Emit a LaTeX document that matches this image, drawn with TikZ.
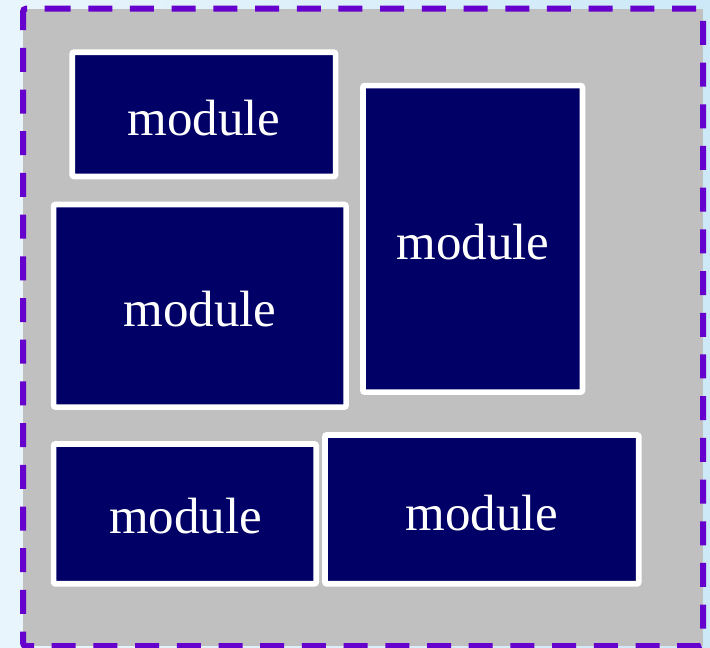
\documentclass[tikz,border=0pt]{standalone}
\usepackage{fontspec}
\setmainfont{Liberation Serif}
\definecolor{skyleft}{RGB}{233,245,252}
\definecolor{skyright}{RGB}{205,233,248}
\definecolor{panelgray}{RGB}{192,192,192}
\definecolor{edgepurple}{RGB}{102,0,204}
\definecolor{modnavy}{RGB}{0,0,102}
\tikzset{
  panelfill/.style={fill=panelgray},
  paneledge/.style={draw=edgepurple, line width=6pt,
    dash pattern=on 24pt off 17.7pt, dash phase=0pt, rounded corners=3pt},
  modbox/.style={draw=white, fill=modnavy, line width=5.7pt,
    rounded corners=2pt},
  modlabel/.style={text=white, font=\fontsize{51}{51}\selectfont, inner sep=0pt}
}
\begin{document}
\begin{tikzpicture}[x=1pt, y=-1pt]
  % canvas
  \shade[left color=skyleft, right color=skyright] (0,0) rectangle (710,648);
  \useasboundingbox (0,0) rectangle (710,648);
  % container: grey panel with a dashed purple rim
  \fill[panelfill] (23,8.7) rectangle (703,646);
  \draw[paneledge] (71.7,8.7) -- (23,8.7) -- (23,646) -- (703,646)
    -- (703,8.7) -- cycle;
  % modules
  \draw[modbox] (72.2,52.2) rectangle (335.6,176.5);
  \node[modlabel] (m1) at (204,118) {module};
  \draw[modbox] (53.6,204.5) rectangle (346.1,407.1);
  \node[modlabel] (m2) at (200,309) {module};
  \draw[modbox] (362.9,85.6) rectangle (582.5,392.1);
  \node[modlabel] (m3) at (473,242) {module};
  \draw[modbox] (53.6,443.9) rectangle (316.2,583.8);
  \node[modlabel] (m4) at (185.5,516) {module};
  \draw[modbox] (324.9,434.9) rectangle (638.8,583.8);
  \node[modlabel] (m5) at (482,513) {module};
\end{tikzpicture}
\end{document}
